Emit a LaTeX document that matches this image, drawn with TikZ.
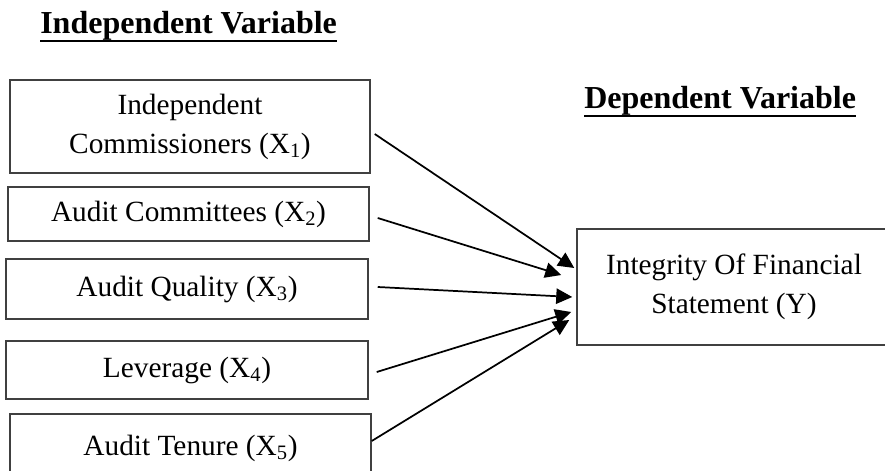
\documentclass[tikz,border=0pt]{standalone}
\usepackage{fontspec}
\setmainfont{Liberation Serif}
\usepackage{tikz}
\usetikzlibrary{arrows.meta,positioning}
\definecolor{modelLine}{HTML}{404040}
\definecolor{modelArrow}{HTML}{000000}
\tikzset{
  varbox/.style={draw=modelLine, line width=1.1pt, align=center, inner sep=0pt, font=\fontsize{22}{29.25}\selectfont},
  vartitle/.style={anchor=base west, inner sep=0pt, font=\fontsize{24}{28}\selectfont\bfseries},
  titleline/.style={line width=1.6pt, draw=black},
  vararrow/.style={-{Triangle[length=12pt, width=11.5pt]}, line width=1.3pt, draw=modelArrow}
}

\begin{document}
\begin{tikzpicture}[x=0.75pt, y=-0.75pt]
    \useasboundingbox (0,0) rectangle (885,471);
    \node[vartitle] (indtitle) at (40,33) {Independent Variable};
    \node[vartitle] (deptitle) at (584,108) {Dependent Variable};
    \draw[titleline] ([yshift=-0.5pt]indtitle.south west) -- ([yshift=-0.5pt]indtitle.south east);
    \draw[titleline] ([yshift=-0.5pt]deptitle.south west) -- ([yshift=-0.5pt]deptitle.south east);
    \node[varbox, minimum width=270pt, minimum height=69.75pt] (indcom) at (190,126.5) {Independent\\Commissioners (X\textsubscript{1})};
    \node[varbox, minimum width=270.75pt, minimum height=40.5pt] (audcom) at (188.5,214) {Audit Committees (X\textsubscript{2})};
    \node[varbox, minimum width=271.5pt, minimum height=45pt] (audqual) at (187,289) {Audit Quality (X\textsubscript{3})};
    \node[varbox, minimum width=271.5pt, minimum height=43.5pt] (lev) at (187,370) {Leverage (X\textsubscript{4})};
    \node[varbox, minimum width=270.75pt, minimum height=51pt] (tenure) at (190.5,448) {Audit Tenure (X\textsubscript{5})};
    \node[varbox, minimum width=247.5pt, minimum height=87pt] (integ) at (742,287) {\hspace*{-12pt}Integrity Of Financial\\\hspace*{-12pt}Statement (Y)};
    \draw[vararrow] ([shift={(4,7.5)}]indcom.east) -- ([shift={(-2,-19)}]integ.west);
    \draw[vararrow] ([shift={(8,4)}]audcom.east) -- ([shift={(-15,-12)}]integ.west);
    \draw[vararrow] ([shift={(9,-2)}]audqual.east) -- ([shift={(-4,10)}]integ.west);
    \draw[vararrow] ([shift={(8,2)}]lev.east) -- ([shift={(-5,25)}]integ.west);
    \draw[vararrow] ([shift={(0,-7)}]tenure.east) -- ([shift={(-7,33)}]integ.west);
  \end{tikzpicture}
\end{document}
